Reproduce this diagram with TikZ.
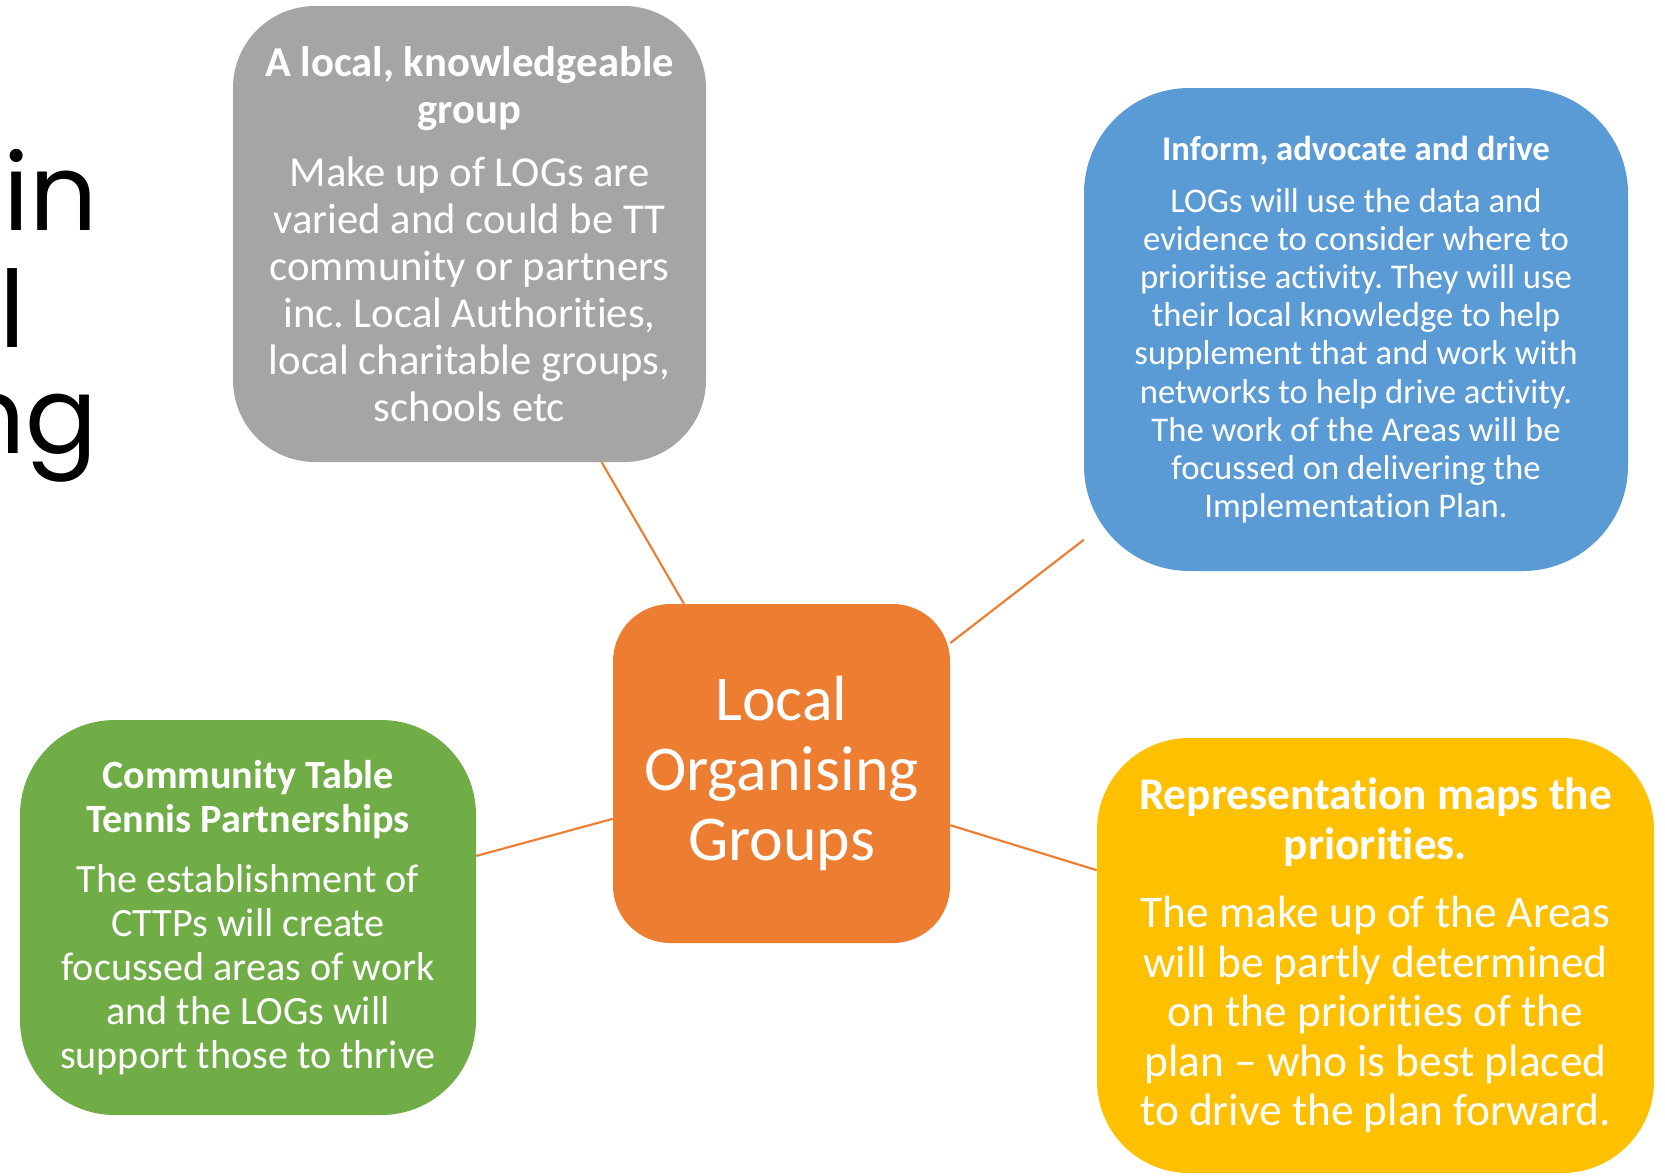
\documentclass[tikz,border=0pt]{standalone}
\usepackage{fontspec}
\setmainfont[Ligatures={NoCommon,NoRequired,NoContextual},Contextuals={NoAlternate},RawFeature=-liga,RawFeature=-dlig]{Carlito}
\newfontfamily\gothic{Poppins}
\frenchspacing
\definecolor{cgray}{HTML}{A5A5A5}
\definecolor{cblue}{HTML}{5B9BD5}
\definecolor{cgreen}{HTML}{70AD47}
\definecolor{corange}{HTML}{ED7D31}
\definecolor{cyellow}{HTML}{FFC000}
\begin{document}
\begin{tikzpicture}[x=0.75pt,y=-0.75pt,
  box/.style={rectangle, fill=#1, text=white, align=center, inner sep=0pt},
  link/.style={draw=corange, line width=1.6pt},
  frag/.style={anchor=base east, inner sep=0pt, text=black, font=\gothic\fontsize{80}{96}\selectfont}]
\useasboundingbox (0,0) rectangle (1665,1175);
\begin{scope}
\clip (0,0) rectangle (1665,1175);
\node[frag] (t1) at (98,230) {in};
\node[frag] (t2) at (26,347) {l};
\node[frag] (t3) at (98,453) {ng};
\end{scope}

\node[box=cgray, minimum width=354.75pt, minimum height=342pt, rounded corners=61.5pt,
  font=\fontsize{32}{35.2}\selectfont] (gray) at (469.5,234)
  {\textbf{A local, knowledgeable}\\ \textbf{group}\\[12pt]
   Make up of LOGs are\\ varied and could be TT\\ community or partners\\
   inc. Local Authorities,\\ local charitable groups,\\ schools etc};

\node[box=cblue, minimum width=408pt, minimum height=362.25pt, rounded corners=79pt,
  font=\fontsize{26}{28.6}\selectfont] (blue) at (1356,329.5)
  {\textbf{Inform, advocate and drive}\\[10.5pt]
   LOGs will use the data and\\ evidence to consider where to\\
   prioritise activity. They will use\\ their local knowledge to help\\
   supplement that and work with\\ networks to help drive activity.\\
   The work of the Areas will be\\ focussed on delivering the\\ Implementation Plan.};

\node[box=cgreen, minimum width=342pt, minimum height=296.25pt, rounded corners=71pt,
  font=\fontsize{30.1}{33}\selectfont] (green) at (248,917.5)
  {\textbf{Community Table}\\ \textbf{Tennis Partnerships}\\[12pt]
   The establishment of\\ CTTPs will create\\ focussed areas of work\\
   and the LOGs will\\ support those to thrive};

\node[box=corange, minimum width=252.75pt, minimum height=254.25pt, rounded corners=43pt,
  font=\fontsize{47.9}{52.5}\selectfont] (center) at (781.5,773.5)
  {Local\\ Organising\\ Groups};

\node[box=cyellow, minimum width=417.75pt, minimum height=326.25pt, rounded corners=69pt,
  font=\fontsize{34}{37.2}\selectfont] (yellow) at (1375.5,955.5)
  {\textbf{Representation maps the}\\ \textbf{priorities.}\\[14pt]
   The make up of the Areas\\ will be partly determined\\ on the priorities of the\\
   plan – who is best placed\\ to drive the plan forward.};

\draw[link] (gray) -- (center);
\draw[link] (center) -- (blue);
\draw[link] (green) -- (center);
\draw[link] (center) -- (yellow);
\end{tikzpicture}
\end{document}
